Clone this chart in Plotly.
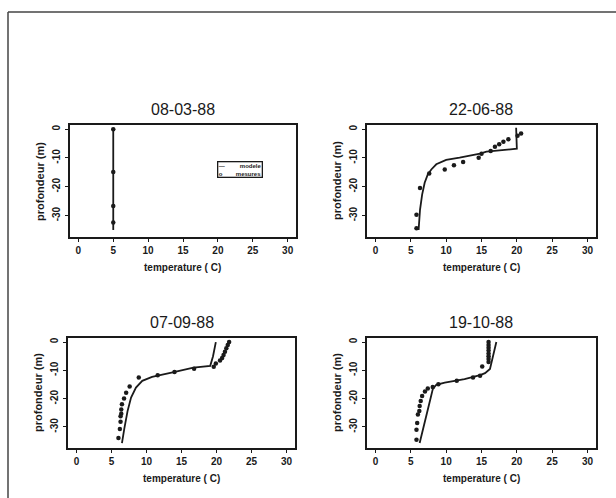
import plotly.graph_objects as go

W, H = 616, 498

titles = ["08-03-88", "22-06-88", "07-09-88", "19-10-88"]

# ---- 08-03-88 ----
model1_t = [5.0, 5.0, 5.0, 5.0, 5.0]
model1_z = [0.0, -10.0, -20.0, -30.0, -35.0]
meas1_t = [5.0, 5.0, 5.0, 5.0]
meas1_z = [0.0, -14.9, -26.7, -32.4]

# ---- 22-06-88 ----
model2_t = [19.9, 20.0, 15.7, 14.8, 11.9, 10.0, 8.6, 7.9, 7.4, 6.96, 6.6, 6.3, 6.1]
model2_z = [0.5, -6.8, -7.8, -8.5, -9.9, -10.7, -12.2, -14.0, -15.7, -18.6, -22.7, -28.0, -35.0]
meas2_t = [20.6, 20.1, 18.8, 18.1, 17.5, 16.9, 16.3, 15.0, 14.6, 12.4, 11.1, 9.8, 7.6, 6.3, 5.8, 5.8]
meas2_z = [-1.5, -2.3, -3.5, -4.4, -5.2, -6.1, -7.6, -8.5, -9.9, -11.4, -12.5, -14.0, -15.4, -20.4, -29.7, -34.4]

# ---- 07-09-88 ----
model3_t = [19.9, 19.5, 19.1, 16.7, 13.9, 10.8, 9.4, 8.5, 7.8, 7.3, 6.85, 6.5]
model3_z = [0.0, -5.0, -8.4, -9.0, -10.6, -12.3, -13.7, -16.1, -19.6, -24.4, -30.4, -35.7]
meas3_t = [21.8, 21.6, 21.4, 21.2, 21.0, 20.8, 20.5, 19.9, 19.6, 16.8, 14.0, 11.6, 8.9,
           7.6, 7.1, 6.8, 6.5, 6.4, 6.4, 6.3, 6.3, 6.2, 6.0]
meas3_z = [0.0, -1.0, -2.2, -3.4, -4.6, -5.6, -6.5, -7.6, -8.7, -9.4, -10.6, -11.7, -12.5,
           -15.7, -17.9, -19.9, -22.0, -23.8, -25.3, -26.2, -28.2, -30.7, -33.9]

# ---- 19-10-88 ----
model4_t = [17.1, 16.2, 15.5, 14.8, 12.6, 9.8, 8.6, 8.1, 7.7, 7.2, 6.7, 6.25]
model4_z = [0.0, -9.5, -11.0, -11.7, -13.1, -14.3, -15.1, -16.7, -20.8, -25.6, -30.4, -35.7]
meas4_t = [16.0, 16.0, 16.0, 16.0, 16.0, 16.0, 16.0, 16.0, 15.1, 14.8, 13.8, 11.5, 8.9,
           8.1, 7.4, 7.0, 6.6, 6.4, 6.25, 6.2, 6.0, 5.9, 5.8, 5.8]
meas4_z = [0.0, -1.0, -2.0, -3.0, -4.0, -5.0, -6.0, -7.0, -8.6, -11.9, -12.5, -13.7, -14.9,
           -15.9, -16.4, -17.5, -19.1, -20.8, -22.6, -24.4, -25.6, -28.6, -31.0, -34.5]

x_ticks = [0, 5, 10, 15, 20, 25, 30]
y_ticks = [0, -10, -20, -30]
y_ticktext = ["0", "-10", "-20", "-30"]
x_title = "temperature ( C)"
y_title = "profondeur (m)"
legend_names = ["modele", "mesures"]

models = [(model1_t, model1_z), (model2_t, model2_z), (model3_t, model3_z), (model4_t, model4_z)]
meass = [(meas1_t, meas1_z), (meas2_t, meas2_z), (meas3_t, meas3_z), (meas4_t, meas4_z)]

# plot boxes in pixels (left, right, top, bottom)
boxes = [(70, 296, 125, 237), (367, 596, 125, 237), (68, 295, 338, 448), (367, 596, 338, 448)]
xtitle_y = [267, 267, 478, 478]

FONT = "Liberation Sans, Arial, sans-serif"
INK = "#1a1a1a"

fig = go.Figure()
annotations = []
for i in range(4):
    ax = "" if i == 0 else str(i + 1)
    mt, mz = models[i]
    st, sz = meass[i]
    fig.add_trace(go.Scatter(x=mt, y=mz, mode="lines", name=legend_names[0],
                             line=dict(color=INK, width=1.8), showlegend=False,
                             xaxis="x" + ax, yaxis="y" + ax))
    fig.add_trace(go.Scatter(x=st, y=sz, mode="markers", name=legend_names[1],
                             marker=dict(color=INK, size=4.5, symbol="circle"),
                             showlegend=False, xaxis="x" + ax, yaxis="y" + ax))
    l, r, t, b = boxes[i]
    axis_common = dict(showline=True, mirror=True, linecolor=INK, linewidth=1.6,
                       ticks="outside", ticklen=3, tickcolor=INK, tickwidth=1,
                       showgrid=False, zeroline=False,
                       tickfont=dict(family=FONT, size=10, color=INK, weight="bold"))
    fig.layout["xaxis" + ax] = dict(axis_common, domain=[l / W, r / W], anchor="y" + ax,
                                    range=[-1.2, 31.2], tickvals=x_ticks)
    fig.layout["yaxis" + ax] = dict(axis_common, domain=[1 - b / H, 1 - t / H], anchor="x" + ax,
                                    range=[-37.44, 1.44], tickvals=y_ticks, ticktext=y_ticktext,
                                    tickangle=-90, ticklabelstandoff=1)
    annotations.append(dict(text=titles[i], x=(l + r) / 2 / W, y=1 - (t - 16) / H,
                            xref="paper", yref="paper", showarrow=False,
                            xanchor="center", yanchor="middle",
                            font=dict(family=FONT, size=16, color=INK)))
    annotations.append(dict(text=x_title, x=(l + r) / 2 / W, y=1 - xtitle_y[i] / H,
                            xref="paper", yref="paper", showarrow=False,
                            xanchor="center", yanchor="middle",
                            font=dict(family=FONT, size=10, color=INK, weight="bold")))
    annotations.append(dict(text=y_title, x=(l - 30) / W, y=1 - (t + b) / 2 / H,
                            xref="paper", yref="paper", showarrow=False, textangle=-90,
                            xanchor="center", yanchor="middle",
                            font=dict(family=FONT, size=11, color=INK, weight="bold")))

# compact boxed legend inside the first panel
annotations.append(dict(text="\u2014         " + legend_names[0] + "<br>o        " + legend_names[1],
                        x=217 / W, y=1 - 161 / H, xref="paper", yref="paper",
                        xanchor="left", yanchor="top", showarrow=False, align="left",
                        bordercolor=INK, borderwidth=1.3, borderpad=0.5, bgcolor="white",
                        font=dict(family=FONT, size=6, color=INK, weight="bold")))

fig.update_layout(
    width=W, height=H, margin=dict(l=0, r=0, t=0, b=0),
    paper_bgcolor="white", plot_bgcolor="white",
    annotations=annotations,
    showlegend=False,
    shapes=[dict(type="line", xref="paper", yref="paper", x0=8 / W, x1=1.02, y0=1 - 12 / H, y1=1 - 12 / H,
                 line=dict(color="#444", width=1.5)),
            dict(type="line", xref="paper", yref="paper", x0=8 / W, x1=8 / W, y0=-0.02, y1=1 - 12 / H,
                 line=dict(color="#444", width=1.5))],
)

fig.write_html("out.html", config={"displayModeBar": False},
               post_script="document.body.style.margin='0';document.body.style.padding='0';")
